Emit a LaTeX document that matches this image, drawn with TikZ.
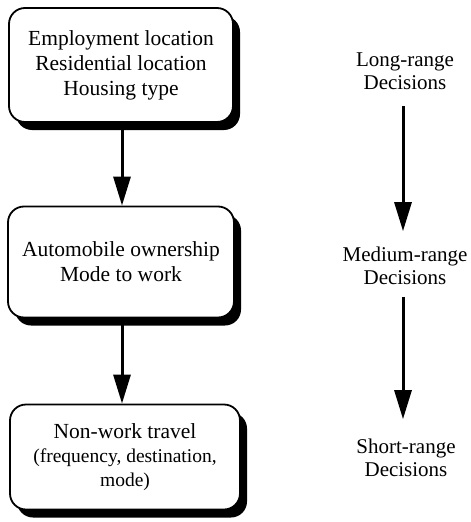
\documentclass[tikz,border=0pt]{standalone}
\usepackage{fontspec}
\setmainfont{Liberation Serif}
\usetikzlibrary{arrows.meta,shadows}
\tikzset{
  decbox/.style={draw=black, line width=1.8pt, rounded corners=16pt, fill=white, align=center,
    inner sep=0pt, font=\fontsize{21.5}{25}\selectfont,
    drop shadow={shadow xshift=7pt, shadow yshift=-8pt, fill=black, opacity=1}},
  rlabel/.style={align=center, inner sep=0pt, font=\fontsize{21}{22.5}\selectfont},
  arr/.style={line width=3pt, -{Triangle[length=29pt,width=17pt]}}
}
\begin{document}
\begin{tikzpicture}[x=1pt,y=-1pt]
\useasboundingbox (0,0) rectangle (471,522);
\node[decbox, minimum width=224pt, minimum height=114pt] (b1) at (121,65)
  {Employment location\\Residential location\\Housing type};
\node[decbox, minimum width=226pt, minimum height=111pt] (b2) at (121,262)
  {Automobile ownership\\Mode to work};
\node[decbox, minimum width=230pt, minimum height=105pt] (b3) at (125,457)
  {Non-work travel\\[-1pt]{\fontsize{19.5}{24}\selectfont (frequency, destination,}\\[-1pt]{\fontsize{19.5}{24}\selectfont mode)}};
\coordinate (c1) at (122,0);
\draw[arr] (b1.south -| c1) -- (b2.north -| c1);
\draw[arr] (b2.south -| c1) -- (b3.north -| c1);
\node[rlabel] (l1) at (405,71) {Long-range\\Decisions};
\node[rlabel] (l2) at (405,266) {Medium-range\\Decisions};
\node[rlabel] (l3) at (406,458) {Short-range\\Decisions};
\coordinate (c2) at (403,0);
\draw[arr, shorten <=17pt, shorten >=16pt] (l1.south -| c2) -- (l2.north -| c2);
\draw[arr, shorten <=12pt, shorten >=20pt] (l2.south -| c2) -- (l3.north -| c2);
\end{tikzpicture}
\end{document}
